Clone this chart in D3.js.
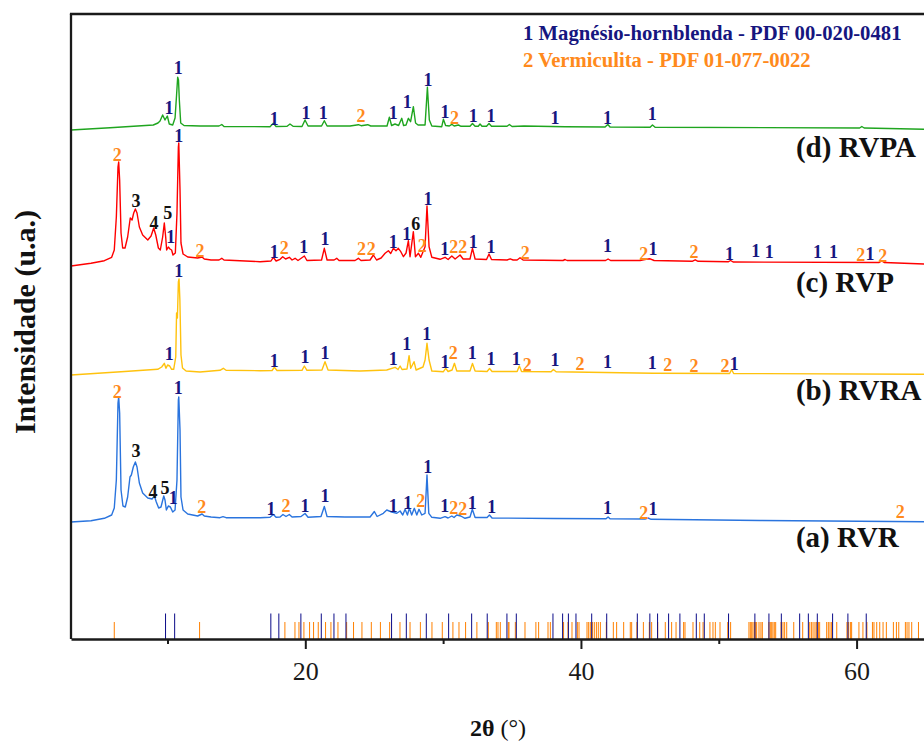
<!DOCTYPE html>
<html>
<head>
<meta charset="utf-8">
<script src="https://cdn.jsdelivr.net/npm/d3@7"></script>
<style>
  body { margin: 0; background: #fff; }
  svg { display: block; }
  text { font-family: "Liberation Serif", "Times New Roman", serif; }
</style>
</head>
<body>
<svg id="chart" width="924" height="742"></svg>
<script>
// Diffractograms: [2θ (°), intensity (u.a.)], each drawn above its own offset
const rvr = [
  [3.0,17],[4.45,18.3],[5.42,20.7],[5.95,24],[6.14,31],[6.29,59],[6.41,136],[6.46,142],[6.53,126],[6.63,49],
  [6.77,33],[6.94,32],[7.11,42],[7.28,62],[7.38,64],[7.52,72],[7.67,77],[7.79,72],[7.96,56],[8.20,46],
  [8.57,41],[8.88,40],[9.05,43],[9.19,37],[9.36,31],[9.53,32],[9.73,43],[9.82,39],[9.92,29],[10.06,33],
  [10.21,32],[10.38,27],[10.55,29],[10.69,59],[10.79,139],[10.82,142],[10.91,109],[10.98,42],[11.13,29],[11.47,25],
  [12.19,23],[12.51,25],[12.67,23],[13.16,22],[13.81,21.3],[14.03,22.3],[14.25,21.3],[16.72,21.3],[17.44,21.7],[17.68,24.5],
  [17.88,21.7],[18.17,22],[18.38,24.5],[18.60,22.5],[18.84,24.5],[19.04,22],[19.69,22.5],[19.98,25.5],[20.20,21.7],[21.14,22.5],
  [21.38,32.5],[21.58,22.5],[22.88,22],[24.70,22],[25.01,27.5],[25.21,22.5],[25.66,25.7],[25.91,29],[26.27,27],[26.64,25.7],
  [26.88,28],[27.07,24],[27.24,29.7],[27.41,24],[27.55,30.7],[27.72,24],[27.91,30.7],[28.09,24],[28.25,29.7],[28.45,24],
  [28.69,25.7],[28.83,64],[28.96,25.7],[29.18,21.7],[29.78,20.7],[30.14,22.3],[30.36,21],[30.63,23],[30.79,21.5],[30.99,24],
  [31.28,23],[31.59,20.7],[31.95,22],[32.12,29.7],[32.32,21.5],[33.19,21.5],[33.36,24],[33.55,21],[37.98,20.5],[41.82,20.2],
  [41.97,22],[42.11,20.2],[44.65,20],[44.87,21],[45.09,19.7],[53.0,18.5],[64.9,17.3]
];
const rvra = [
  [3.0,14],[6.63,17.3],[9.29,19.7],[9.58,22],[9.77,25.7],[9.89,20.7],[10.01,24],[10.16,23],[10.30,19.7],[10.45,19.7],
  [10.60,32],[10.66,76],[10.72,71],[10.79,107],[10.84,110],[10.90,89],[10.98,34],[11.09,21],[11.35,18],[12.36,17],
  [13.81,18.7],[14.05,20.7],[14.25,18.7],[16.72,18.3],[17.59,18.5],[17.75,21.7],[17.95,18.5],[19.76,18.7],[19.93,23],[20.12,18.7],
  [21.21,19],[21.43,27.3],[21.65,19],[23.97,18],[25.91,19],[26.51,21.7],[26.73,19.5],[26.88,23],[27.02,19.5],[27.38,20],
  [27.53,33.3],[27.65,20.7],[27.89,27.3],[28.04,19],[28.54,22],[28.69,29],[28.83,45.7],[28.98,29],[29.18,18],[30.02,17.3],
  [30.19,20.7],[30.36,17.5],[30.65,19],[30.82,25.7],[30.99,18],[31.95,18],[32.13,25.5],[32.32,18],[33.19,17.5],[33.37,20.5],
  [33.55,17.5],[35.37,17.5],[35.53,23],[35.69,17.5],[37.83,17.2],[38.0,19.5],[38.2,17.2],[45.24,15.7],[50.79,15.5],[50.93,19.5],
  [51.08,15.5],[64.9,14.7]
];
const rvp = [
  [3.0,23],[4.45,25.7],[5.42,28.3],[5.95,31.7],[6.14,39],[6.29,72],[6.41,122],[6.46,127],[6.53,109],[6.63,56],
  [6.75,41],[6.92,41],[7.11,52],[7.30,71],[7.43,69],[7.55,76],[7.67,80],[7.79,76],[7.96,62],[8.20,54],
  [8.57,49],[8.81,53],[9.0,61],[9.15,54],[9.34,41],[9.48,39],[9.65,52],[9.77,66],[9.87,52],[9.94,39],
  [10.06,42],[10.18,40],[10.30,39],[10.40,34],[10.57,36],[10.69,76],[10.79,142],[10.82,146],[10.91,99],[10.98,46],
  [11.13,35],[11.47,32],[12.19,31],[12.51,32],[12.67,30],[13.16,29],[13.74,29],[13.94,30.7],[14.10,29],[16.72,27.3],
  [17.51,28],[17.68,31.7],[17.88,28],[18.17,29.7],[18.36,32.3],[18.57,30],[18.84,31.7],[19.04,29],[19.26,30.7],[19.47,28.5],
  [19.93,33],[20.12,28.5],[21.18,29],[21.38,40.7],[21.58,29],[22.09,29],[22.28,30.7],[22.45,28.5],[23.61,28.5],[23.85,30.7],
  [24.04,28.5],[24.70,29],[24.94,34],[25.17,29],[25.50,31],[25.79,35.7],[26.03,38.3],[26.20,35.5],[26.39,40.7],[26.58,38.3],
  [26.75,40.7],[26.93,37.3],[27.12,32.3],[27.31,36],[27.48,48.3],[27.60,32.3],[27.84,57.3],[27.99,32.3],[28.21,35.7],[28.38,31.7],
  [28.69,42.3],[28.83,83],[28.98,42.3],[29.18,31.7],[29.78,29.7],[30.14,31.7],[30.36,29.5],[30.63,33],[30.87,30],[31.23,34],
  [31.45,30],[31.95,30],[32.13,40.7],[32.32,30],[33.15,29.5],[33.33,35],[33.51,29.5],[34.64,29],[34.86,30.2],[35.08,29],
  [35.37,29],[35.58,31.2],[35.80,29],[38.70,28.5],[38.85,29.5],[38.99,28.5],[41.79,28.5],[41.97,30],[42.15,28.5],[44.29,28.5],
  [44.73,29.7],[45.02,30.2],[45.31,28.5],[48.07,27.7],[48.29,29.2],[48.50,27.7],[50.68,27.2],[50.86,28.5],[51.04,27],[61.64,26.5],
  [61.83,28],[62.0,26.5],[64.9,25]
];
const rvpa = [
  [3.0,19],[5.83,21.3],[8.97,24],[9.31,26],[9.46,28],[9.65,34],[9.82,29],[9.99,33],[10.13,25],[10.38,24],
  [10.55,31],[10.66,54],[10.74,71.7],[10.80,69],[10.86,49],[10.96,26],[11.20,23.5],[12.36,23],[13.74,23],[13.94,24.5],
  [14.10,22.5],[17.44,22.3],[17.68,25.7],[17.88,22.5],[18.68,22.7],[18.89,25],[19.11,22.7],[19.76,22.5],[19.98,29],[20.20,23],
  [21.18,23],[21.38,28.3],[21.58,23],[23.25,23],[23.85,24.3],[24.05,23.3],[24.53,24.3],[24.75,23],[25.93,23],[26.10,31.7],
  [26.26,23.5],[26.51,25],[26.77,23.5],[27.0,30.7],[27.13,23.5],[27.31,24],[27.48,30.7],[27.64,27.3],[27.84,42.3],[28.0,26],
  [28.18,24],[28.69,24],[28.86,61.7],[29.0,29],[29.18,23],[29.90,22.3],[30.02,29.7],[30.18,23.5],[30.45,23],[30.63,24.7],
  [30.80,23],[31.11,24],[31.30,22.7],[31.95,22.7],[32.13,25.5],[32.32,22.7],[32.55,22.7],[32.68,25],[32.82,22.7],[33.15,22.7],
  [33.33,25.5],[33.51,22.7],[34.64,22.7],[34.81,24.5],[35.0,22.5],[35.87,23],[38.85,22.3],[41.75,22],[41.95,24.5],[42.11,22],
  [45.02,21.7],[45.19,24],[45.38,21.7],[60.22,21],[60.38,22.5],[60.55,21],[64.9,19.7]
];

const seriesNames   = ["(a) RVR", "(b) RVRA", "(c) RVP", "(d) RVPA"];
const seriesData    = [rvr, rvra, rvp, rvpa];
const seriesOffsets = [100, 250, 350, 490];
const seriesColors  = ["#2a74de", "#ffc20e", "#ff0000", "#1fa51f"];

// Phase identification marks: [2θ, intensity above the offset, phase]
const rvrLabels = [
  [6.36,147.3,"2"],[7.72,88,"3"],[8.95,46.7,"4"],[9.82,51.3,"5"],[10.42,40.7,"1"],[10.79,150.7,"1"],[12.48,32.3,"2"],
  [17.51,29.7,"1"],[18.60,33,"2"],[19.98,33,"1"],[21.43,43,"1"],[26.39,33,"1"],[27.43,36.3,"1"],[28.38,38.3,"2"],
  [28.89,72.3,"1"],[30.12,33,"1"],[30.77,30.7,"2"],[31.42,29.7,"2"],[32.12,35.7,"1"],[33.53,31.7,"1"],[41.92,30.7,"1"],
  [44.55,26.3,"2"],[45.22,29.7,"1"],[63.16,26.7,"2"]
];
const rvraLabels = [
  [10.82,118,"1"],[10.13,35,"1"],[17.75,28.3,"1"],[19.98,31.7,"1"],[21.43,35.7,"1"],[26.39,29.7,"1"],[27.36,44.7,"1"],
  [28.81,55,"1"],[30.14,27.3,"1"],[30.74,35.7,"2"],[32.12,35.7,"1"],[33.48,29.7,"1"],[35.30,29.7,"1"],[36.10,24,"2"],
  [38.12,29,"1"],[39.94,25,"2"],[41.92,27.3,"1"],[45.18,25.7,"1"],[46.30,24,"2"],[48.21,23,"2"],[50.45,23,"2"],[51.12,25,"1"]
];
const rvpLabels = [
  [6.36,134,"2"],[7.72,88.3,"3"],[9.02,66.3,"4"],[10.02,75.7,"5"],[10.24,52.3,"1"],[10.82,153,"1"],[12.36,38.3,"2"],
  [17.75,37.3,"1"],[18.48,40.7,"2"],[19.89,41.7,"1"],[21.43,49.7,"1"],[24.08,40,"2"],[24.79,40,"2"],[26.39,47.3,"1"],
  [27.36,55,"1"],[28.01,65,"6"],[28.49,43,"2"],[28.91,89.7,"1"],[30.12,39.7,"1"],[30.77,42.3,"2"],[31.42,41.7,"2"],
  [32.19,47.3,"1"],[33.48,42.3,"1"],[35.95,36.3,"2"],[41.92,43,"1"],[44.55,35,"2"],[45.22,39.7,"1"],[48.21,36.7,"2"],
  [50.77,35,"1"],[52.69,38.3,"1"],[53.67,37.3,"1"],[57.16,37.3,"1"],[58.32,37.3,"1"],[60.30,34,"2"],[60.97,34.7,"1"],
  [61.90,33,"2"]
];
const rvpaLabels = [
  [10.79,80.7,"1"],[10.11,40.7,"1"],[17.75,29.7,"1"],[20.05,36.3,"1"],[21.31,35.7,"1"],[24.05,33.3,"2"],[26.39,36.3,"1"],
  [27.40,47.3,"1"],[28.91,69,"1"],[30.14,37.3,"1"],[30.83,30.7,"2"],[32.19,33,"1"],[33.48,33.5,"1"],[38.12,30.7,"1"],
  [41.92,30.7,"1"],[45.18,34.7,"1"]
];
const seriesLabels = [rvrLabels, rvraLabels, rvpLabels, rvpaLabels];

// Reference patterns (stick positions, 2θ)
const hornblendePDF = [
  9.86,10.52,17.5,18.08,19.68,21.16,22.08,22.95,26.26,27.33,28.78,30.4,32.07,33.2,34.63,35.31,37.97,38.67,39.09,39.64,
  40.78,41.87,44.09,45.0,45.56,46.36,47.18,48.37,48.95,50.71,52.62,53.64,54.54,55.87,56.5,57.15,58.26,59.37,60.7
];
const vermiculitePDF = [
  6.14,12.33,18.52,19.25,19.54,19.9,20.31,20.6,20.94,21.47,21.86,22.37,23.0,23.5,24.11,24.79,25.45,26.12,26.87,27.6,
  28.35,29.19,29.94,30.71,31.15,31.63,32.45,33.28,33.86,33.98,34.15,34.73,34.78,35.24,35.94,36.73,36.93,37.61,37.78,38.74,
  39.06,39.35,39.74,39.86,40.44,40.56,40.68,40.83,40.97,41.12,41.26,41.41,41.84,42.35,42.59,43.1,43.58,43.68,44.06,44.53,
  44.96,45.13,45.57,46.12,46.58,46.9,47.45,47.55,48.13,48.62,48.86,49.36,49.58,49.75,50.09,50.65,50.86,52.19,52.29,52.39,
  52.48,52.58,52.68,52.75,52.92,53.06,53.16,53.64,53.74,53.84,53.93,54.03,54.13,54.52,54.66,54.78,54.93,55.44,56.09,56.6,
  56.72,56.84,56.98,57.08,57.23,57.32,57.83,57.95,58.07,58.19,58.56,59.3,59.42,59.55,59.64,60.17,60.46,60.75,61.15,61.26,
  61.46,61.68,61.92,62.16,62.67,62.89,63.06,63.54,63.66,63.8,64.0,64.49
];
const hornblendeStick = 25.5;
const vermiculiteStick = 17;

const majorTicks = [20, 40, 60];
const minorTicks = [10, 30, 50];

const legendLines = [
  ["1 Magnésio-hornblenda - PDF 00-020-0481", "1"],
  ["2 Vermiculita - PDF 01-077-0022", "2"]
];
const phaseColor = { "1": "#16167f", "2": "#ff8a1c" };
const markColor = t => phaseColor[t] || "#111";

// ---- drawing ----
const svg = d3.select("#chart");
const x = d3.scaleLinear().domain([3, 65]).range([71, 925.5]);
const y = d3.scaleLinear().domain([0, 625]).range([639, 14]);

// stick patterns along the bottom
const sticks = svg.append("g");
sticks.selectAll("line.v").data(vermiculitePDF).join("line")
  .attr("class", "v")
  .attr("x1", d => x(d)).attr("x2", d => x(d))
  .attr("y1", y(0)).attr("y2", y(vermiculiteStick))
  .attr("stroke", "#ff8000").attr("stroke-width", 1);
sticks.selectAll("line.h").data(hornblendePDF).join("line")
  .attr("class", "h")
  .attr("x1", d => x(d)).attr("x2", d => x(d))
  .attr("y1", y(0)).attr("y2", y(hornblendeStick))
  .attr("stroke", "#0b0b88").attr("stroke-width", 1);

// diffractograms
seriesData.forEach((data, i) => {
  const off = seriesOffsets[i];
  const line = d3.line().x(d => x(d[0])).y(d => y(d[1] + off));
  svg.append("path").datum(data)
    .attr("d", line)
    .attr("fill", "none")
    .attr("stroke", seriesColors[i])
    .attr("stroke-width", 1.4)
    .attr("stroke-linejoin", "round");
});

// frame
svg.append("line").attr("x1", x(3)).attr("x2", x(3)).attr("y1", y(625)).attr("y2", y(0))
  .attr("stroke", "#1a1a1a").attr("stroke-width", 2.3);
svg.append("line").attr("x1", x(3) - 1.1).attr("x2", x(65)).attr("y1", y(625)).attr("y2", y(625))
  .attr("stroke", "#1a1a1a").attr("stroke-width", 2.3);

// x axis
const gx = svg.append("g").attr("transform", `translate(0,${y(0)})`);
gx.call(d3.axisBottom(x).tickValues(majorTicks).tickSize(10).tickPadding(13).tickSizeOuter(0));
gx.append("g").call(d3.axisBottom(x).tickValues(minorTicks).tickSize(5).tickFormat("").tickSizeOuter(0))
  .select(".domain").remove();
gx.selectAll(".domain").attr("stroke", "#1a1a1a").attr("stroke-width", 2.3);
gx.selectAll(".tick line").attr("stroke", "#1a1a1a").attr("stroke-width", 2);
gx.selectAll(".tick text")
  .attr("font-family", "'Liberation Serif','Times New Roman',serif")
  .attr("font-size", 26).attr("fill", "#1a1a1a");

// phase marks over the peaks
seriesLabels.forEach((labels, i) => {
  const off = seriesOffsets[i];
  svg.append("g").selectAll("text").data(labels).join("text")
    .attr("x", d => x(d[0]))
    .attr("y", d => y(d[1] + off) + 6)
    .attr("text-anchor", "middle")
    .attr("font-size", 18).attr("font-weight", "bold")
    .attr("fill", d => markColor(d[2]))
    .text(d => d[2]);
});

// sample names
const nameLift = [-8, -11, -3, -8];
seriesNames.forEach((name, i) => {
  svg.append("text")
    .attr("x", x(55.6))
    .attr("y", y(seriesOffsets[i] + nameLift[i]))
    .attr("font-size", 29).attr("font-weight", "bold").attr("fill", "#111")
    .text(name);
});

// legend
legendLines.forEach((row, i) => {
  svg.append("text")
    .attr("x", 523).attr("y", 40 + i * 27)
    .attr("font-size", 20.7).attr("font-weight", "bold")
    .attr("fill", phaseColor[row[1]])
    .text(row[0]);
});

// axis titles
const xt = svg.append("text").attr("x", 498).attr("y", 736)
  .attr("text-anchor", "middle").attr("font-size", 24).attr("fill", "#111");
xt.append("tspan").attr("font-weight", "bold").text("2θ");
xt.append("tspan").text(" (°)");

svg.append("text")
  .attr("transform", "translate(35,322) rotate(-90)")
  .attr("text-anchor", "middle")
  .attr("font-size", 30).attr("font-weight", "bold").attr("fill", "#111")
  .text("Intensidade (u.a.)");
</script>
</body>
</html>
